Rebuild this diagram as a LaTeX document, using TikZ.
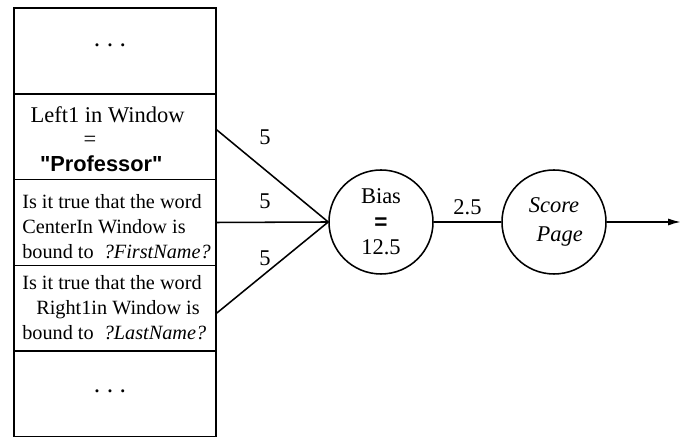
\documentclass[tikz,border=0pt]{standalone}
\usepackage{fontspec}
\setmainfont{Liberation Serif}
\newfontfamily\headfont{Liberation Sans}
\usetikzlibrary{positioning, calc, arrows.meta}

\newcommand{\ellipsisdots}{{\fontsize{9}{10}\selectfont\textbullet\hspace{6pt}\textbullet\hspace{6pt}\textbullet}}

\tikzset{
    cell/.style={draw, line width=1.1pt, minimum width=5.05cm, minimum height=2.145cm, inner sep=0pt},
    unit/.style={draw, circle, line width=1.1pt, minimum size=2.6cm, inner sep=0pt, align=center,
        font=\fontsize{16}{18}\selectfont},
    weight/.style={font=\fontsize{16}{18}\selectfont},
    rule/.style={align=left, anchor=west, inner sep=0pt, font=\fontsize{14.4}{17.8}\selectfont},
    link/.style={line width=1.1pt}
}

\begin{document}
\begin{tikzpicture}
        \useasboundingbox (0, 0) rectangle (17.05, 10.925);

        % The column of rules
        \node[cell] (dotsA) at (2.875, 9.6525) {};
        \node[cell] (left1) at (2.875, 7.5075) {};
        \node[cell] (center) at (2.875, 5.3625) {};
        \node[cell] (right1) at (2.875, 3.2175) {};
        \node[cell] (dotsB) at (2.875, 1.0725) {};

        % Texts of the rules
        \node (dotsAtext) at (2.75, 9.75) {\ellipsisdots};
        \node[font=\fontsize{16}{18}\selectfont] (left1a) at (2.69, 8.05) {Left1 in Window};
        \node[font=\fontsize{16}{18}\selectfont] (left1b) at (2.25, 7.38) {=};
        \node[font=\headfont\bfseries\fontsize{15.5}{18}\selectfont] (left1c) at (2.53, 6.82) {"Professor"};
        \node[rule] (centertext) at (0.55, 5.27) {Is it true that the word\\CenterIn Window is\\bound to \ \textit{?FirstName?}};
        \node[rule] (right1text) at (0.55, 3.24) {Is it true that the word\\\hspace*{10pt}Right1in Window is\\bound to \ \textit{?LastName?}};
        \node (dotsBtext) at (2.75, 1.1) {\ellipsisdots};

        % The two units
        \node[unit] (bias) at (9.525, 5.375) {Bias\\{\headfont\bfseries =}\\12.5};
        \node[unit, font=\itshape\fontsize{16}{20}\selectfont] (score) at (13.85, 5.375) {Score\\\hspace*{8pt}Page};
        \coordinate (out) at (17.02, 5.375);

        % Connections
        \draw[link] ($(left1.east)+(0, 0.17)$) -- (bias.west);
        \draw[link] (center.east) -- (bias.west);
        \draw[link] ($(right1.east)+(0, -0.12)$) -- (bias.west);
        \draw[link] (bias) -- node[above, weight, yshift=1pt] (w4) {2.5} (score);
        \draw[link, -{Latex[length=9pt, width=5pt]}] (score) -- (out);

        % Weights
        \node[weight] (w1) at (6.625, 7.5) {5};
        \node[weight] (w2) at (6.625, 5.9) {5};
        \node[weight] (w3) at (6.625, 4.475) {5};
    \end{tikzpicture}
\end{document}
